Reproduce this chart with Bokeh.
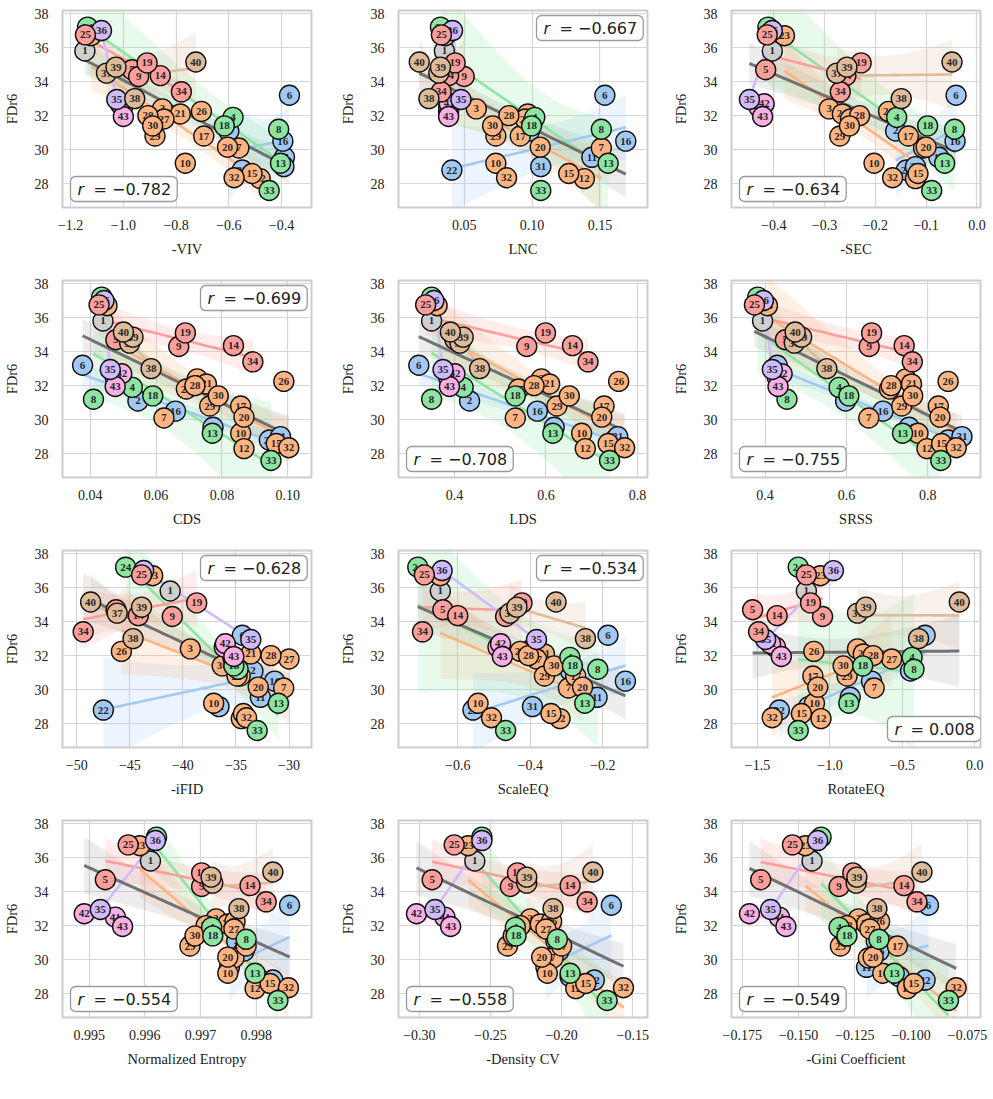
import numpy as np
from bokeh.plotting import figure
from bokeh.layouts import column, row
from bokeh.models import Range1d, FixedTicker, CustomJSTickFormatter, Label
from bokeh.core.properties import value
from bokeh.embed import file_html
from bokeh.resources import INLINE

# ---------------------------------------------------------------- data
model_ids = list(range(1, 44))
family = ["gray", "blue", "orange", "green", "red", "blue", "orange", "green", "red", "orange",
          "blue", "orange", "green", "red", "orange", "blue", "orange", "green", "red", "orange",
          "orange", "blue", "orange", "green", "red", "orange", "orange", "orange", "orange", "orange",
          "blue", "orange", "green", "red", "purple", "purple", "tan", "tan", "tan", "tan",
          "pink", "pink", "pink"]
fdr6 = [35.8, 31.1, 32.4, 31.9, 34.7, 33.2, 30.1, 31.2, 34.3, 29.2,
        29.55, 28.3, 29.2, 34.35, 28.6, 30.5, 30.8, 31.4, 35.1, 30.15,
        32.1, 28.8, 36.7, 37.2, 36.75, 32.25, 31.8, 32.0, 30.8, 31.4,
        29.0, 28.35, 27.6, 33.4, 32.95, 37.0, 34.5, 33.0, 34.85, 35.15,
        32.5, 32.7, 31.95]
neg_viv = [-1.146, -0.600, -0.852, -0.584, -0.967, -0.370, -0.562, -0.411, -0.942, -0.765,
           -0.389, -0.481, -0.404, -0.860, -0.512, -0.395, -0.695, -0.617, -0.910, -0.605,
           -0.784, -0.549, -1.123, -1.136, -1.144, -0.704, -0.846, -0.907, -0.880, -0.889,
           -0.391, -0.580, -0.447, -0.780, -1.025, -1.083, -1.064, -0.957, -1.028, -0.725,
           -1.003, -1.012, -1.000]
lnc = [0.0354, 0.098, 0.0589, 0.102, 0.037, 0.1536, 0.151, 0.151, 0.050, 0.0733,
       0.144, 0.1385, 0.156, 0.0385, 0.127, 0.169, 0.0913, 0.0996, 0.0433, 0.106,
       0.0968, 0.0409, 0.036, 0.0325, 0.0332, 0.0385, 0.0949, 0.0829, 0.0733, 0.0709,
       0.1064, 0.0812, 0.1064, 0.033, 0.0476, 0.0414, 0.0313, 0.024, 0.0325, 0.0169,
       0.0385, 0.039, 0.0385]
neg_sec = [-0.403, -0.160, -0.291, -0.158, -0.416, -0.041, -0.105, -0.044, -0.262, -0.2026,
           -0.075, -0.121, -0.0635, -0.258, -0.116, -0.043, -0.135, -0.097, -0.228, -0.100,
           -0.265, -0.139, -0.379, -0.4115, -0.413, -0.174, -0.249, -0.231, -0.270, -0.251,
           -0.121, -0.166, -0.089, -0.269, -0.448, -0.403, -0.276, -0.149, -0.256, -0.049,
           -0.429, -0.419, -0.422]
cds = [0.0439, 0.0545, 0.0725, 0.0528, 0.0478, 0.0377, 0.0624, 0.041, 0.0669, 0.0857,
       0.0773, 0.0867, 0.0771, 0.0835, 0.0965, 0.0659, 0.0857, 0.059, 0.0689, 0.0867,
       0.0753, 0.0944, 0.0451, 0.0435, 0.0427, 0.0988, 0.0692, 0.0718, 0.0763, 0.0789,
       0.0978, 0.1003, 0.0949, 0.0894, 0.0461, 0.0442, 0.052, 0.0585, 0.053, 0.0501,
       0.0476, 0.0496, 0.0476]
lds = [0.350, 0.433, 0.590, 0.419, 0.401, 0.322, 0.533, 0.350, 0.558, 0.678,
       0.618, 0.686, 0.615, 0.658, 0.736, 0.581, 0.727, 0.533, 0.599, 0.722,
       0.608, 0.750, 0.362, 0.350, 0.337, 0.759, 0.540, 0.574, 0.624, 0.651,
       0.757, 0.772, 0.739, 0.692, 0.375, 0.355, 0.412, 0.455, 0.419, 0.391,
       0.387, 0.401, 0.389]
srss = [0.394, 0.598, 0.746, 0.582, 0.450, 0.430, 0.655, 0.454, 0.656, 0.776,
        0.754, 0.798, 0.738, 0.742, 0.834, 0.690, 0.826, 0.606, 0.662, 0.830,
        0.760, 0.850, 0.406, 0.382, 0.374, 0.850, 0.706, 0.710, 0.736, 0.763,
        0.884, 0.870, 0.832, 0.762, 0.418, 0.396, 0.472, 0.552, 0.490, 0.474,
        0.430, 0.442, 0.432]
neg_ifid = [-41.2, -33.4, -39.3, -35.3, -46.3, -34.4, -30.5, -34.8, -41.0, -37.1,
            -32.7, -34.5, -31.0, -44.2, -34.3, -31.35, -34.6, -35.2, -38.7, -32.9,
            -33.6, -47.5, -42.85, -45.4, -43.9, -45.8, -30.0, -31.7, -34.9, -36.3,
            -36.6, -34.0, -33.0, -49.4, -33.6, -43.7, -46.2, -44.7, -43.9, -48.7,
            -36.1, -36.0, -35.2]
scale_eq = [-0.648, -0.289, -0.396, -0.291, -0.641, -0.186, -0.295, -0.214, -0.468, -0.544,
            -0.216, -0.318, -0.250, -0.600, -0.343, -0.138, -0.275, -0.284, -0.423, -0.256,
            -0.361, -0.558, -0.648, -0.710, -0.692, -0.428, -0.383, -0.405, -0.361, -0.335,
            -0.394, -0.507, -0.468, -0.697, -0.383, -0.643, -0.456, -0.248, -0.437, -0.329,
            -0.489, -0.482, -0.477]
rotate_eq = [-1.163, -0.444, -0.810, -0.433, -1.534, -0.343, -0.695, -0.420, -1.051, -1.107,
             -0.860, -1.062, -0.870, -1.365, -1.197, -0.713, -1.118, -0.774, -1.134, -1.084,
             -0.770, -1.350, -1.066, -1.219, -1.163, -1.111, -0.574, -0.702, -0.882, -0.909,
             -1.147, -1.399, -1.219, -1.493, -1.444, -0.976, -0.810, -0.388, -0.752, -0.107,
             -1.376, -1.410, -1.336]
norm_entropy = [0.99610, 0.99765, 0.99728, 0.99720, 0.99529, 0.99860, 0.99760, 0.99782, 0.99702, 0.99749,
                0.99752, 0.99798, 0.99798, 0.99789, 0.99825, 0.99778, 0.99782, 0.99722, 0.99702, 0.99749,
                0.99749, 0.99830, 0.99591, 0.99621, 0.99570, 0.99762, 0.99760, 0.99710, 0.99681, 0.99690,
                0.99801, 0.99858, 0.99839, 0.99818, 0.99520, 0.99619, 0.99722, 0.99769, 0.99719, 0.99830,
                0.99547, 0.99491, 0.99560]
neg_density_cv = [-0.261, -0.204, -0.222, -0.2325, -0.291, -0.165, -0.206, -0.203, -0.236, -0.210,
                  -0.211, -0.190, -0.194, -0.194, -0.183, -0.202, -0.200, -0.232, -0.231, -0.214,
                  -0.215, -0.177, -0.2657, -0.256, -0.2755, -0.207, -0.211, -0.229, -0.238, -0.234,
                  -0.194, -0.1565, -0.168, -0.182, -0.289, -0.256, -0.2245, -0.206, -0.2245, -0.178,
                  -0.282, -0.302, -0.278]
neg_gini = [-0.1440, -0.1155, -0.1234, -0.1320, -0.1668, -0.0923, -0.1190, -0.1143, -0.1320, -0.1126,
            -0.1198, -0.1017, -0.1075, -0.1032, -0.0988, -0.1143, -0.1061, -0.1285, -0.1259, -0.1169,
            -0.1198, -0.0938, -0.1470, -0.1400, -0.1527, -0.1140, -0.1183, -0.1285, -0.1314, -0.1288,
            -0.1053, -0.0800, -0.0834, -0.0974, -0.1624, -0.1415, -0.1244, -0.1152, -0.1241, -0.0952,
            -0.1585, -0.1718, -0.1556]

metric_labels = ["-VIV", "LNC", "-SEC", "CDS", "LDS", "SRSS",
                 "-iFID", "ScaleEQ", "RotateEQ", "Normalized Entropy", "-Density CV", "-Gini Coefficient"]
metric_values = [neg_viv, lnc, neg_sec, cds, lds, srss,
                 neg_ifid, scale_eq, rotate_eq, norm_entropy, neg_density_cv, neg_gini]
pearson_r = [-0.782, -0.667, -0.634, -0.699, -0.708, -0.755,
             -0.628, -0.534, 0.008, -0.554, -0.558, -0.549]
x_ticks = [[-1.2, -1.0, -0.8, -0.6, -0.4], [0.05, 0.10, 0.15], [-0.4, -0.3, -0.2, -0.1, 0.0],
           [0.04, 0.06, 0.08, 0.10], [0.4, 0.6, 0.8], [0.4, 0.6, 0.8],
           [-50, -45, -40, -35, -30], [-0.6, -0.4, -0.2], [-1.5, -1.0, -0.5, 0.0],
           [0.995, 0.996, 0.997, 0.998], [-0.30, -0.25, -0.20, -0.15],
           [-0.175, -0.150, -0.125, -0.100, -0.075]]
y_ticks = [28, 30, 32, 34, 36, 38]

# ---------------------------------------------------------------- styling
tick_digits = [1, 2, 1, 2, 1, 1, 0, 1, 1, 3, 2, 3]
x_limits = [(-1.2309, -0.2864), (0.0016, 0.185), (-0.4833, 0.0071),
            (0.0316, 0.1072), (0.2776, 0.822), (0.3176, 0.9296),
            (-51.35, -27.88), (-0.7632, -0.0771), (-1.6798, 0.0393),
            (0.99452, 0.998994), (-0.31465, -0.1396), (-0.17977, -0.0692)]
y_limits = (26.6, 38.18)
box_place = ["bl", "tr", "bl", "tr", "bl", "bl", "tr", "tr", "br", "bl", "bl", "bl"]

colors = {"gray": "#cfcfcf", "blue": "#a1c9f4", "orange": "#ffb482", "green": "#8de5a1",
          "red": "#ff9f9b", "purple": "#d0bbff", "tan": "#debb9b", "pink": "#fab0e4"}
fit_families = ["blue", "orange", "green", "red", "purple", "tan", "pink"]
draw_families = ["gray", "blue", "orange", "green", "pink", "purple", "red", "tan"]

SERIF = value("Liberation Serif")
SANS = "DejaVu Sans"
col_widths = [336, 333, 324]
FRAME_W, FRAME_H = 255, 197


def linear_fit(xs, ys):
    xs = np.asarray(xs, float)
    ys = np.asarray(ys, float)
    grid = np.linspace(xs.min(), xs.max(), 80)
    slope, icpt = np.polyfit(xs, ys, 1)
    mid = icpt + slope * grid
    n = len(xs)
    if n > 2:
        res = ys - (icpt + slope * xs)
        s = np.sqrt((res ** 2).sum() / (n - 2))
        sxx = ((xs - xs.mean()) ** 2).sum()
        half = 1.96 * s * np.sqrt(1.0 / n + (grid - xs.mean()) ** 2 / sxx)
    else:
        half = np.zeros_like(grid)
    return grid, mid, mid - half, mid + half


def make_panel(k, col):
    xr = x_limits[k]
    w = col_widths[col]
    p = figure(width=w, height=270, output_backend="svg", toolbar_location=None,
               x_range=Range1d(*xr), y_range=Range1d(*y_limits),
               min_border_left=56, min_border_right=w - 56 - FRAME_W,
               min_border_top=10, min_border_bottom=270 - 10 - FRAME_H)
    p.background_fill_color = "white"
    p.border_fill_color = "white"
    p.outline_line_color = "#cccccc"
    p.outline_line_width = 2

    for ax in (p.xaxis[0], p.yaxis[0]):
        ax.axis_line_color = None
        ax.major_tick_line_color = None
        ax.minor_tick_line_color = None
        ax.major_label_text_font = "Liberation Serif"
        ax.major_label_text_font_size = "14px"
        ax.major_label_text_color = "#222222"
        ax.axis_label_text_font = "Liberation Serif"
        ax.axis_label_text_font_size = "14.5px"
        ax.axis_label_text_font_style = "normal"
        ax.axis_label_text_color = "#222222"
    p.xaxis[0].ticker = FixedTicker(ticks=x_ticks[k])
    d = tick_digits[k]
    p.xaxis[0].formatter = CustomJSTickFormatter(
        code="return tick.toFixed(%d).replace('-', '\u2212');" % d)
    p.yaxis[0].ticker = FixedTicker(ticks=y_ticks)
    p.yaxis[0].formatter = CustomJSTickFormatter(code="return tick.toFixed(0);")
    p.xaxis[0].axis_label = metric_labels[k]
    p.yaxis[0].axis_label = "FDr6"
    p.xaxis[0].major_label_standoff = 6
    p.xaxis[0].axis_label_standoff = 8
    p.yaxis[0].major_label_standoff = 8
    p.yaxis[0].axis_label_standoff = 12
    p.xgrid[0].grid_line_color = "#d6d6d6"
    p.ygrid[0].grid_line_color = "#d6d6d6"
    p.xgrid[0].grid_line_width = 1.2
    p.ygrid[0].grid_line_width = 1.2

    xs_all = np.asarray(metric_values[k], float)
    ys_all = np.asarray(fdr6, float)
    fam = np.asarray(family)

    # overall fit band first, then family bands, lines, overall line
    g_all = linear_fit(xs_all, ys_all)
    p.varea(x=g_all[0], y1=g_all[2], y2=g_all[3], fill_color="#8c8c8c", fill_alpha=0.16)
    fits = []
    for f in fit_families:
        m = fam == f
        if m.sum() < 2:
            continue
        g = linear_fit(xs_all[m], ys_all[m])
        fits.append((f, g))
        p.varea(x=g[0], y1=g[2], y2=g[3], fill_color=colors[f], fill_alpha=0.2)
    for f, g in fits:
        p.line(g[0], g[1], line_color=colors[f], line_width=2.6)
    p.line(g_all[0], g_all[1], line_color="#727272", line_width=3)

    # labelled markers, one at a time so later markers cover earlier ones
    for f in draw_families:
        for i, mid in enumerate(model_ids):
            if family[i] != f:
                continue
            xv, yv = metric_values[k][i], fdr6[i]
            p.scatter(x=[xv], y=[yv], size=20, fill_color=colors[f], fill_alpha=1.0,
                      line_color="#111111", line_width=1.4)
            p.text(x=[xv], y=[yv], text=[str(mid)], text_align="center",
                   text_baseline="middle", text_font=SERIF, text_font_style="bold",
                   text_font_size="11px", text_color="#262626")

    # correlation box
    where = box_place[k]
    off_x = {"bl": 8, "tr": 138, "br": 156}[where]
    if where == "tr":
        y0, off_y, base, pad_shift = y_limits[1], -5, "top", -3
    else:
        y0, off_y, base, pad_shift = y_limits[0], 6, "bottom", 3
    rtxt = "= " + ("%.3f" % pearson_r[k]).replace("-", "\u2212")
    box = Label(x=xr[0], y=y0, x_offset=off_x, y_offset=off_y, text=rtxt,
                text_align="left", text_baseline=base, text_font=SANS,
                text_font_size="16px", text_color="#222222",
                background_fill_color="white", background_fill_alpha=0.9,
                border_line_color="#9a9a9a", border_line_width=1.3, border_radius=5,
                padding=dict(left=23, right=6, top=3, bottom=3))
    rlab = Label(x=xr[0], y=y0, x_offset=off_x + 7, y_offset=off_y + pad_shift, text="r",
                 text_align="left", text_baseline=base, text_font=SANS,
                 text_font_style="italic", text_font_size="16px", text_color="#222222")
    p.add_layout(box)
    p.add_layout(rlab)
    return p


rows = []
for r in range(4):
    rows.append(row(*[make_panel(3 * r + c, c) for c in range(3)]))
layout = column(*rows)

open("out.html", "w").write(file_html(layout, INLINE))
